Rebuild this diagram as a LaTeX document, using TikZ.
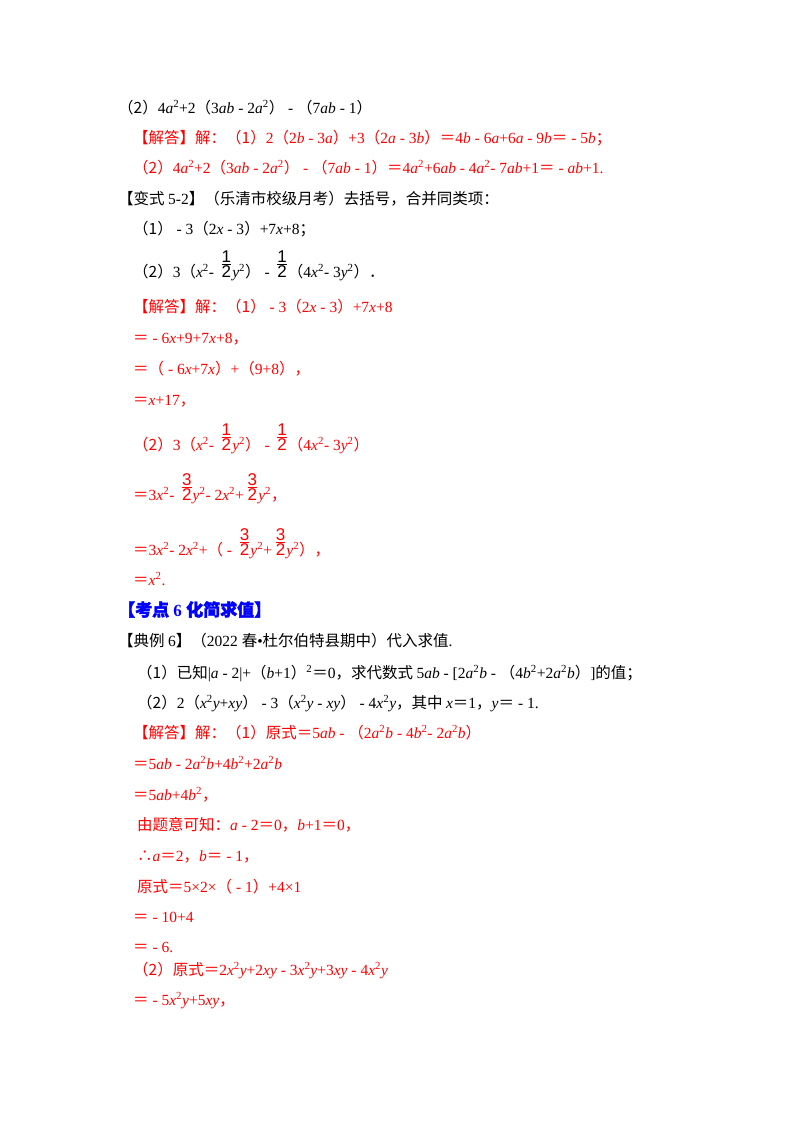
\documentclass[tikz,border=0pt]{standalone}
\usepackage{amsmath}
\usepackage{fontspec}
\setmainfont{Liberation Serif}
\setsansfont{Liberation Sans}
\newfontfamily\cjk{Noto Sans CJK SC}
\newfontfamily\cjkb[FakeBold=2]{Noto Sans CJK SC}
\newcommand\zh[1]{{\cjk #1}}
\newcommand\vv[1]{\textit{#1}}
\newcommand\sq{\textsuperscript{2}}
\newcommand\fr[2]{\,\raisebox{9pt}{$\genfrac{}{}{0.6pt}{}{\hbox{\sffamily\fontsize{17}{17}\selectfont #1}}{\hbox{\sffamily\fontsize{17}{17}\selectfont #2}}$}}
\definecolor{ansred}{HTML}{FF0000}
\definecolor{ttlblue}{HTML}{0000FF}
\begin{document}
\begin{tikzpicture}[x=1pt,y=-1pt,
  ln/.style={anchor=base west,inner sep=0pt,font=\fontsize{15.5}{17}\selectfont},
  rd/.style={ln,text=ansred}]
\fill[white] (0,0) rectangle (800,1132);
\useasboundingbox (0,0) rectangle (800,1132);
\node[ln] (l1) at (118,113) {\zh{（2）}4\vv{a}\sq+2\zh{（}3\vv{ab} - 2\vv{a}\sq\zh{）} - \zh{（}7\vv{ab} - 1\zh{）}};
\node[rd] (l2) at (133,143) {\zh{【解答】解：（1）}2\zh{（}2\vv{b} - 3\vv{a}\zh{）}+3\zh{（}2\vv{a} - 3\vv{b}\zh{）＝}4\vv{b} - 6\vv{a}+6\vv{a} - 9\vv{b}\zh{＝} - 5\vv{b}\zh{；}};
\node[rd] (l3) at (133,173) {\zh{（2）}4\vv{a}\sq+2\zh{（}3\vv{ab} - 2\vv{a}\sq\zh{）} - \zh{（}7\vv{ab} - 1\zh{）＝}4\vv{a}\sq+6\vv{ab} - 4\vv{a}\sq - 7\vv{ab}+1\zh{＝} - \vv{ab}+1.};
\node[ln] (l4) at (118,204) {\zh{【变式 }5-2\zh{】（乐清市校级月考）去括号，合并同类项：}};
\node[ln] (l5) at (133,234) {\zh{（1）} - 3\zh{（}2\vv{x} - 3\zh{）}+7\vv{x}+8\zh{；}};
\node[ln] (l6) at (133,277) {\zh{（2）}3\zh{（}\vv{x}\sq - \fr12\vv{y}\sq\zh{）} - \fr12\zh{（}4\vv{x}\sq - 3\vv{y}\sq\zh{）．}};
\node[rd] (l7) at (133,312) {\zh{【解答】解：（1）} - 3\zh{（}2\vv{x} - 3\zh{）}+7\vv{x}+8};
\node[rd] (l8) at (133,343) {\zh{＝} - 6\vv{x}+9+7\vv{x}+8\zh{，}};
\node[rd] (l9) at (133,374) {\zh{＝（} - 6\vv{x}+7\vv{x}\zh{）}+\zh{（}9+8\zh{），}};
\node[rd] (l10) at (133,405) {\zh{＝}\vv{x}+17\zh{，}};
\node[rd] (l11) at (133,450) {\zh{（2）}3\zh{（}\vv{x}\sq - \fr12\vv{y}\sq\zh{）} - \fr12\zh{（}4\vv{x}\sq - 3\vv{y}\sq\zh{）}};
\node[rd] (l12) at (133,500) {\zh{＝}3\vv{x}\sq - \fr32\vv{y}\sq - 2\vv{x}\sq+\fr32\vv{y}\sq\zh{，}};
\node[rd] (l13) at (133,555) {\zh{＝}3\vv{x}\sq - 2\vv{x}\sq+\zh{（} - \fr32\vv{y}\sq+\fr32\vv{y}\sq\zh{），}};
\node[rd] (l14) at (133,585) {\zh{＝}\vv{x}\sq.};
\node[ln,text=ttlblue,font=\fontsize{17}{19}\selectfont\bfseries] (t) at (118,616) {{\cjkb 【考点} 6 {\cjkb 化简求值】}};
\node[ln] (l16) at (118,646) {\zh{【典例 }6\zh{】（}2022 \zh{春}•\zh{杜尔伯特县期中）代入求值}.};
\node[ln] (l17) at (137,678) {\zh{（1）已知}|\vv{a} - 2|+\zh{（}\vv{b}+1\zh{）}\textsuperscript{2}\zh{＝}0\zh{，求代数式 }5\vv{ab} - [2\vv{a}\sq\vv{b} - \zh{（}4\vv{b}\sq+2\vv{a}\sq\vv{b}\zh{）}]\zh{的值；}};
\node[ln] (l18) at (137,708) {\zh{（2）}2\zh{（}\vv{x}\sq\vv{y}+\vv{xy}\zh{）} - 3\zh{（}\vv{x}\sq\vv{y} - \vv{xy}\zh{）} - 4\vv{x}\sq\vv{y}\zh{，其中 }\vv{x}\zh{＝}1\zh{，}\vv{y}\zh{＝} - 1.};
\node[rd] (l19) at (133,738) {\zh{【解答】解：（1）原式＝}5\vv{ab} - \zh{（}2\vv{a}\sq\vv{b} - 4\vv{b}\sq - 2\vv{a}\sq\vv{b}\zh{）}};
\node[rd] (l20) at (133,769) {\zh{＝}5\vv{ab} - 2\vv{a}\sq\vv{b}+4\vv{b}\sq+2\vv{a}\sq\vv{b}};
\node[rd] (l21) at (133,800) {\zh{＝}5\vv{ab}+4\vv{b}\sq\zh{，}};
\node[rd] (l22) at (137,830) {\zh{由题意可知：}\vv{a} - 2\zh{＝}0\zh{，}\vv{b}+1\zh{＝}0\zh{，}};
\node[rd] (l23) at (137,861) {\zh{∴}\vv{a}\zh{＝}2\zh{，}\vv{b}\zh{＝} - 1\zh{，}};
\node[rd] (l24) at (137,892) {\zh{原式＝}5×2×\zh{（} - 1\zh{）}+4×1};
\node[rd] (l25) at (133,922) {\zh{＝} - 10+4};
\node[rd] (l26) at (133,952) {\zh{＝} - 6.};
\node[rd] (l27) at (133,975) {\zh{（2）原式＝}2\vv{x}\sq\vv{y}+2\vv{xy} - 3\vv{x}\sq\vv{y}+3\vv{xy} - 4\vv{x}\sq\vv{y}};
\node[rd] (l28) at (133,1005) {\zh{＝} - 5\vv{x}\sq\vv{y}+5\vv{xy}\zh{，}};
\end{tikzpicture}
\end{document}
